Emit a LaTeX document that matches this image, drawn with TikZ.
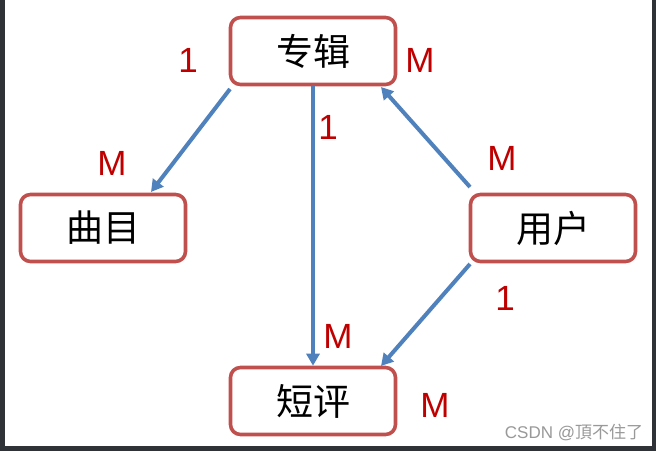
\documentclass[tikz,border=0pt]{standalone}
\usepackage{fontspec}
\setmainfont{Liberation Sans}
\newfontfamily\cjk{Noto Sans CJK SC}
\usetikzlibrary{arrows.meta}
\definecolor{boxred}{HTML}{C0504D}
\definecolor{arrblue}{HTML}{4F81BD}
\definecolor{lblred}{HTML}{C00000}
\definecolor{frame}{HTML}{2F3337}
\begin{document}
\begin{tikzpicture}[x=1pt,y=-1pt,
  entity/.style={draw=boxred,line width=3.6pt,fill=white,rounded corners=10pt,
     minimum width=165pt,minimum height=67pt,inner sep=0pt,font=\cjk\fontsize{37}{37}\selectfont},
  rel/.style={draw=arrblue,line width=4pt,-{Triangle[length=12pt,width=13pt]}},
  card/.style={text=lblred,font=\fontsize{35}{35}\selectfont,inner sep=0pt}]
\fill[frame] (0,0) rectangle (656,451);
\fill[white] (5,0) rectangle (652,446);
\useasboundingbox (0,0) rectangle (656,451);
\node[entity] (zj) at (313,51) {专辑};
\node[entity] (qm) at (103,228) {曲目};
\node[entity] (yh) at (553,228) {用户};
\node[entity] (dp) at (313,401) {短评};
\coordinate (zjbl) at (230,89);
\coordinate (zjbr) at (381,87);
\coordinate (yhtl) at (470,187);
\coordinate (yhbl) at (470,264);
\coordinate (qmt) at (151,192);
\coordinate (dptr) at (381,366);
\draw[rel] (zjbl) -- (qmt);
\draw[rel] (zj.south) -- (dp.north);
\draw[rel] (yhtl) -- (zjbr);
\draw[rel] (yhbl) -- (dptr);
\node[card] (l1) at (188,60) {1};
\node[card] (l2) at (420,60) {M};
\node[card] (l3) at (112,163) {M};
\node[card] (l4) at (328,127) {1};
\node[card] (l5) at (502,158) {M};
\node[card] (l6) at (505,298) {1};
\node[card] (l7) at (338,336) {M};
\node[card] (l8) at (435,405) {M};
\node[text=gray!80,font=\fontsize{17}{17}\selectfont,inner sep=0pt] (wm) at (574,432) {CSDN @{\cjk 頂不住了}};
\end{tikzpicture}
\end{document}
